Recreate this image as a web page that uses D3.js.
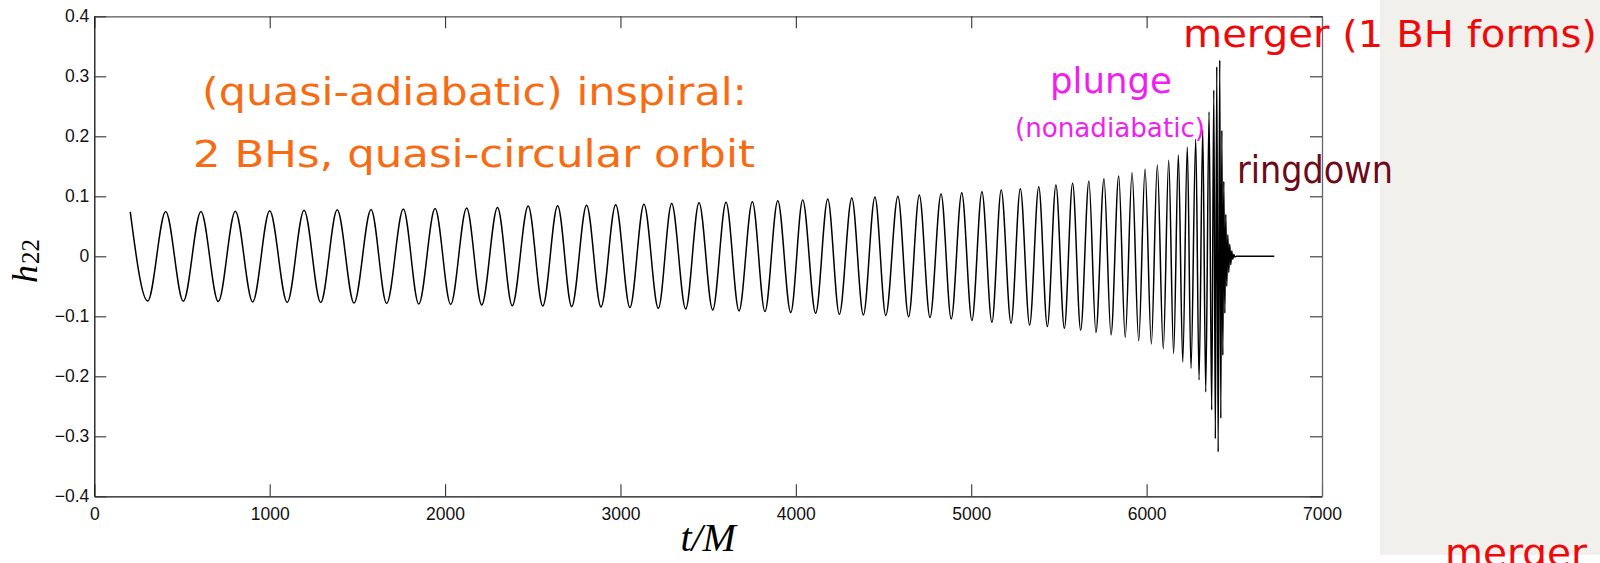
<!DOCTYPE html>
<html>
<head>
<meta charset="utf-8">
<script src="https://cdn.jsdelivr.net/npm/d3@7/dist/d3.min.js"></script>
<style>
  html, body { margin: 0; padding: 0; background: #ffffff; }
  svg { display: block; }
</style>
</head>
<body>
<svg id="chart" width="1600" height="563"></svg>
<script>
// ---------------- data ----------------
// extrema of the h22 waveform (time t/M, amplitude), joined by a smooth curve
const waveT = [205, 304.5, 407, 507.5, 608, 707, 804, 903, 1000, 1100, 1196, 1291, 1385, 1481, 1578, 1667, 1762, 1850, 1943, 2032,
  2123, 2209, 2299, 2383, 2474, 2557, 2642, 2722, 2807, 2889, 2973, 3054, 3134, 3216, 3292, 3372, 3448, 3526, 3602, 3676,
  3752, 3824, 3897, 3971, 4039, 4113, 4182, 4248, 4319, 4385, 4451, 4513, 4582, 4643, 4704, 4765, 4828, 4886, 4946, 5004,
  5061, 5118, 5171, 5227, 5280, 5333, 5385, 5434, 5483, 5531, 5578, 5624, 5671, 5711, 5757, 5797, 5841, 5878, 5917, 5955,
  5991, 6027, 6061, 6095, 6126, 6154, 6181, 6206, 6232, 6253, 6280, 6299, 6320, 6337, 6356, 6371, 6383, 6392, 6400, 6408,
  6417, 6423, 6429, 6434.5, 6440, 6446, 6451.5, 6457, 6463, 6468.5, 6474, 6480, 6485.5, 6491, 6497, 6503, 6512, 6728];
const waveH = [0.074, -0.0745, 0.0745, -0.075, 0.0748, -0.0755, 0.0752, -0.076, 0.076, -0.0768, 0.0768, -0.0772, 0.0775, -0.078, 0.078, -0.0787, 0.0788, -0.0795, 0.0795, -0.0802,
  0.0803, -0.081, 0.0815, -0.0823, 0.0838, -0.0828, 0.0844, -0.0838, 0.085, -0.0845, 0.086, -0.0855, 0.0867, -0.0867, 0.0878, -0.0878, 0.0894, -0.0895, 0.090, -0.091,
  0.091, -0.0922, 0.0927, -0.0938, 0.0938, -0.095, 0.0955, -0.0967, 0.097, -0.0978, 0.0988, -0.0985, 0.100, -0.1006, 0.102, -0.102, 0.104, -0.1045, 0.106, -0.107,
  0.1077, -0.110, 0.1105, -0.1117, 0.1127, -0.1145, 0.116, -0.117, 0.119, -0.120, 0.1217, -0.123, 0.1255, -0.127, 0.1293, -0.131, 0.134, -0.135, 0.1393, -0.141,
  0.145, -0.146, 0.152, -0.154, 0.160, -0.162, 0.169, -0.176, 0.182, -0.187, 0.195, -0.206, 0.2105, -0.226, 0.241, -0.256, 0.277, -0.304, 0.316, -0.326,
  0.327, -0.27, 0.21, -0.165, 0.125, -0.095, 0.07, -0.05, 0.036, -0.027, 0.02, -0.014, 0.009, -0.005, 0.003, -0.001, 0, 0];

const xTicks = [0, 1000, 2000, 3000, 4000, 5000, 6000, 7000];
const xTickLabels = ["0", "1000", "2000", "3000", "4000", "5000", "6000", "7000"];
const yTicks = [-0.4, -0.3, -0.2, -0.1, 0, 0.1, 0.2, 0.3, 0.4];
const yTickLabels = ["\u22120.4", "\u22120.3", "\u22120.2", "\u22120.1", "0", "0.1", "0.2", "0.3", "0.4"];

const inspiralLines = ["(quasi-adiabatic) inspiral:", "2 BHs, quasi-circular orbit"];
const plungeText = "plunge";
const nonadiabaticText = "(nonadiabatic)";
const mergerText = "merger (1 BH forms)";
const ringdownText = "ringdown";
const bottomMergerText = "merger";

// ---------------- drawing ----------------
const svg = d3.select("#chart");
const x = d3.scaleLinear().domain([0, 7000]).range([94.3, 1322]);
const y = d3.scaleLinear().domain([-0.4, 0.4]).range([496.3, 16.3]);

// right-side slide panel
svg.append("rect").attr("x", 1380).attr("y", 0).attr("width", 220).attr("height", 555)
  .attr("fill", "#f1f0ec");

// waveform
const pts = waveT.map((t, i) => [t, waveH[i]]);
const line = d3.line().x(d => x(d[0])).y(d => y(d[1])).curve(d3.curveMonotoneX);
svg.append("path").datum(pts).attr("d", line)
  .attr("fill", "none").attr("stroke", "#000").attr("stroke-width", 1.5)
  .attr("stroke-linejoin", "round");

// axes
const tickFont = "'Liberation Sans', Arial, Helvetica, sans-serif";
function styleAxis(g, col) {
  g.selectAll("path.domain").attr("stroke", col).attr("stroke-width", 1.3);
  g.selectAll(".tick line").attr("stroke", "#333").attr("stroke-width", 1.1);
  g.selectAll(".tick text").attr("fill", "#111").style("font-family", tickFont).style("font-size", "17.5px");
}
const gB = svg.append("g").attr("transform", `translate(0,${y(-0.4)})`)
  .call(d3.axisBottom(x).tickValues(xTicks).tickFormat((d, i) => xTickLabels[i]).tickSize(-12).tickSizeOuter(0).tickPadding(11));
styleAxis(gB, "#111");
const gT = svg.append("g").attr("transform", `translate(0,${y(0.4)})`)
  .call(d3.axisTop(x).tickValues(xTicks).tickFormat("").tickSize(-12).tickSizeOuter(0));
styleAxis(gT, "#555");
const gL = svg.append("g").attr("transform", `translate(${x(0)},0)`)
  .call(d3.axisLeft(y).tickValues(yTicks).tickFormat((d, i) => yTickLabels[i]).tickSize(-12).tickSizeOuter(0).tickPadding(5));
styleAxis(gL, "#111");
const gR = svg.append("g").attr("transform", `translate(${x(7000)},0)`)
  .call(d3.axisRight(y).tickValues(yTicks).tickFormat("").tickSize(-12).tickSizeOuter(0));
styleAxis(gR, "#666");

// axis titles
const serif = "'Liberation Serif', 'Times New Roman', serif";
const yl = svg.append("text").attr("transform", "translate(37,283) rotate(-90)")
  .style("font-family", serif).attr("fill", "#000");
yl.append("tspan").style("font-style", "italic").style("font-size", "36px").text("h");
yl.append("tspan").style("font-size", "25px").attr("dy", 2).attr("dx", 1).text("22");

svg.append("text").attr("x", x(3500)).attr("y", 551).attr("text-anchor", "middle")
  .style("font-family", serif).style("font-style", "italic").style("font-size", "40px")
  .attr("fill", "#000").text("t/M");

// annotations
const hand = "'DejaVu Sans', Verdana, sans-serif";
function note(txt, xx, yy, size, col, len) {
  const t = svg.append("text").attr("x", xx).attr("y", yy)
    .style("font-family", hand).style("font-size", size + "px").attr("fill", col).text(txt);
  if (len) t.attr("textLength", len).attr("lengthAdjust", "spacingAndGlyphs");
  return t;
}
note(inspiralLines[0], 202, 105, 37, "#f76b12", 545);
note(inspiralLines[1], 193, 167, 37, "#f76b12", 562);
note(plungeText, 1050, 93, 36, "#f01ef0", 122);
note(nonadiabaticText, 1015, 137, 26, "#f01ef0", 190);
note(mergerText, 1183, 47, 38, "#ee0a0a", 414);
note(ringdownText, 1237, 183, 37, "#6e0a18", 156);
note(bottomMergerText, 1445, 566, 38, "#ee0a0a", 142);
</script>
</body>
</html>
